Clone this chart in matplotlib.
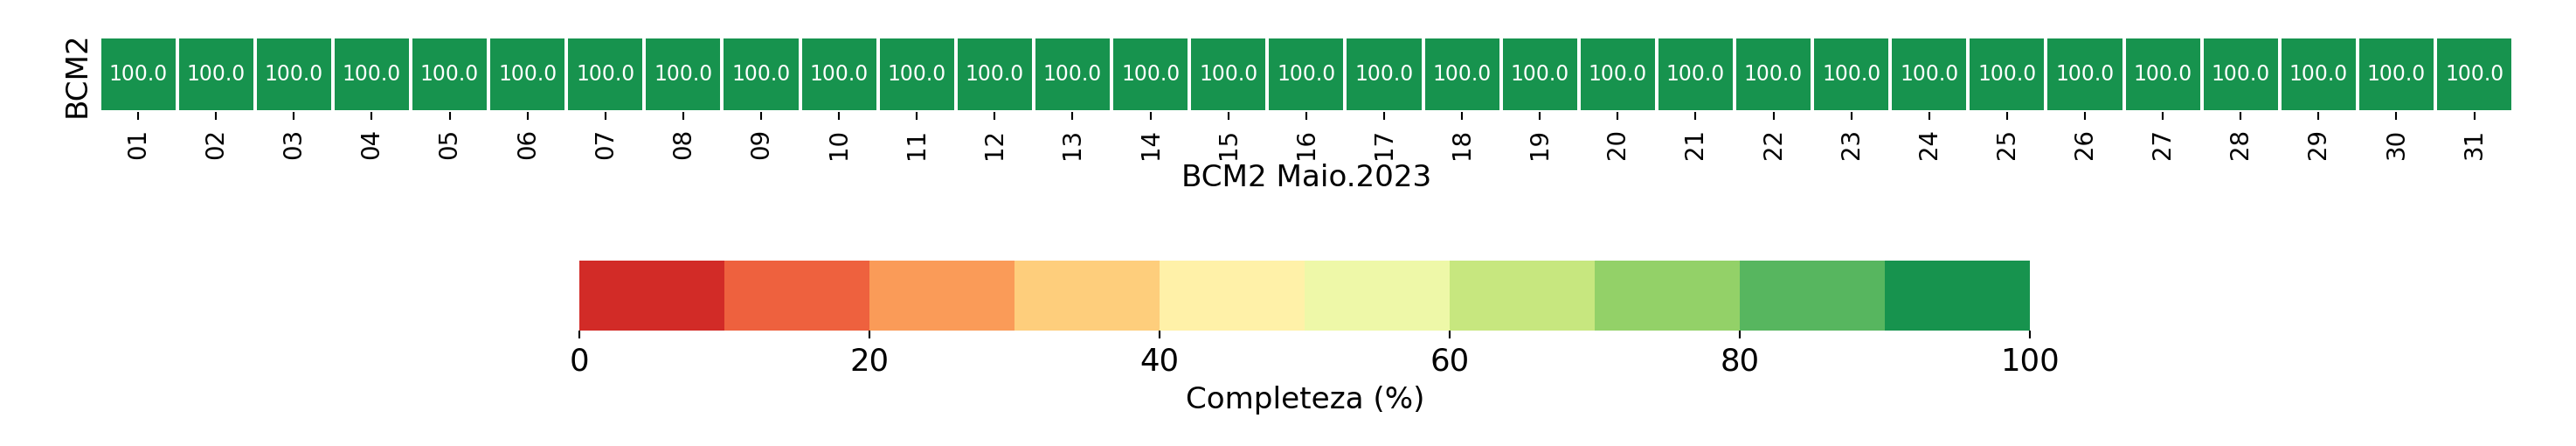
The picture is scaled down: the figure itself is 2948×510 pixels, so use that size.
import numpy as np
import matplotlib
matplotlib.use('Agg')
import matplotlib.pyplot as plt
from matplotlib.colors import ListedColormap
import seaborn as sns

days = [f'{d:02d}' for d in range(1, 32)]
completeness = [100.0] * 31
station = 'BCM2'
title = 'BCM2 Maio.2023'

data = np.array([completeness])
cmap = ListedColormap(sns.color_palette('RdYlGn', 10))

fig = plt.figure(figsize=(15.6, 2.7), dpi=189)
ax = fig.add_axes([0.0385, 0.748, 0.937, 0.170])
cax = fig.add_axes([0.225, 0.259, 0.563, 0.156])

sns.heatmap(data, ax=ax, cmap=cmap, vmin=0, vmax=100, annot=True, fmt='.1f',
            annot_kws={'fontsize': 9, 'color': 'white'},
            linewidths=1.5, linecolor='white', cbar=True, cbar_ax=cax,
            cbar_kws={'orientation': 'horizontal'},
            xticklabels=days, yticklabels=[station])
ax.set_xticklabels(days, rotation=90, fontsize=10.5)
ax.set_yticklabels([station], rotation=90, va='center', fontsize=13)
ax.tick_params(axis='y', length=0)
ax.set_xlabel(title, fontsize=13, labelpad=2)
cax.tick_params(labelsize=13.5)
cax.set_xlabel('Completeza (%)', fontsize=13)
for s in cax.spines.values():
    s.set_visible(False)

fig.savefig('out.png', dpi=189)
